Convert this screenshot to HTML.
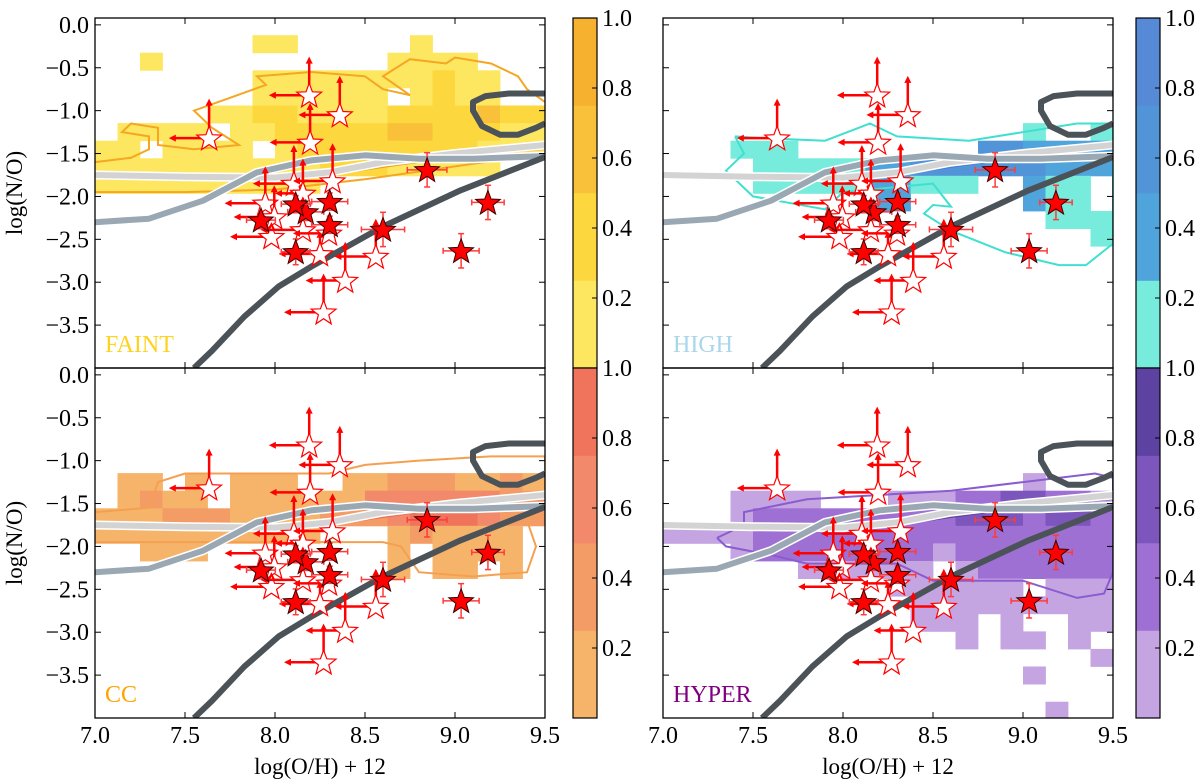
<!DOCTYPE html>
<html><head><meta charset="utf-8">
<style>
html,body{margin:0;padding:0;background:#fff;}
svg{display:block;}
svg text{font-family:"Liberation Serif","Times New Roman","DejaVu Serif",serif;}
</style></head>
<body>
<svg id="fig" width="1200" height="784" viewBox="0 0 1200 784" xmlns="http://www.w3.org/2000/svg" font-family="Liberation Serif, serif"></svg>
<script>
// ---- data ----
const xTicks = [7.0, 7.5, 8.0, 8.5, 9.0, 9.5];
const xTickLabels = ["7.0", "7.5", "8.0", "8.5", "9.0", "9.5"];
const yTicks = [0.0, -0.5, -1.0, -1.5, -2.0, -2.5, -3.0, -3.5];
const yTickLabels = ["0.0", "\u22120.5", "\u22121.0", "\u22121.5", "\u22122.0", "\u22122.5", "\u22123.0", "\u22123.5"];
const cbTicks = [0.2, 0.4, 0.6, 0.8, 1.0];
const cbTickLabels = ["0.2", "0.4", "0.6", "0.8", "1.0"];

// detections: x, y, xerr, yerr
const detX = [8.845, 9.183, 9.034, 8.60, 7.922, 8.115, 8.171, 8.115, 8.304, 8.304];
const detY = [-1.69, -2.07, -2.634, -2.385, -2.276, -2.646, -2.18, -2.09, -2.06, -2.33];
const detXErr = [0.11, 0.09, 0.10, 0.12, 0.08, 0.08, 0.10, 0.08, 0.10, 0.10];
const detYErr = [0.20, 0.20, 0.20, 0.20, 0.10, 0.15, 0.10, 0.10, 0.10, 0.10];
// limits: x, y, left-arrow end, up-arrow end
const limX = [7.634, 8.19, 8.36, 8.195, 8.105, 8.32, 8.155, 7.946, 7.996, 7.98, 8.155, 8.25, 8.56, 8.39, 8.27, 8.30];
const limY = [-1.32, -0.82, -1.05, -1.37, -1.85, -1.82, -1.965, -2.08, -2.24, -2.47, -2.39, -2.67, -2.70, -2.98, -3.35, -2.43];
const limXTo = [7.41, 7.966, 8.13, 7.97, 7.877, 8.10, 8.0, 7.72, 7.77, 7.75, 7.92, 8.02, 8.33, 8.17, 8.05, 8.10];
const limYTo = [-0.86, -0.37, -0.595, -0.91, -1.40, -1.38, -1.56, -1.65, -1.87, -2.30, -2.0, -2.40, -2.26, -2.53, -2.90, -2.20];

// model curves
const lightCurveX = [7.0, 7.5, 8.0, 8.3, 8.6, 9.0, 9.5];
const lightCurveY = [-1.75, -1.77, -1.78, -1.72, -1.60, -1.50, -1.40];
const blueCurveX = [7.0, 7.3, 7.6, 7.9, 8.2, 8.5, 8.8, 9.1, 9.5];
const blueCurveY = [-2.30, -2.26, -2.05, -1.72, -1.58, -1.52, -1.56, -1.56, -1.53];
const darkCurveX = [7.55, 7.65, 7.83, 8.02, 8.2, 8.6, 9.03, 9.5];
const darkCurveY = [-4.0, -3.8, -3.4, -3.05, -2.82, -2.35, -1.93, -1.54];
const loopX = [9.5, 9.3, 9.17, 9.1, 9.1, 9.15, 9.25, 9.35, 9.45, 9.5];
const loopY = [-0.80, -0.80, -0.83, -0.9, -1.0, -1.18, -1.28, -1.28, -1.2, -1.15];

// heatmap grids: rows start at y=-0.12, step 0.205; cols start 7.0 step 0.125; digit = colour band
const faintGrid = [
".......11.....1.....",
"..1..........1111...",
".......11111111211..",
".......111111.1211..",
".....112211112222322",
".1111.11222223322211",
"11.1111.122222222111",
"111111111122211111..",
"1111111111.........."];
const highGrid = [
"....................","....................","....................","....................","....................",
"................1..1",
"...111........332222",
"....1111122333333222",
"....1111122111..211.",
".........22.....211.",
".................111",
"...................1"];
const ccGrid = [
"....................","....................","....................","....................","....................",
".11.1.111..112221121",
".1211.11111133333322",
"11122211112223444322",
"1111111111...121111.",
"..111........1.1111.",
".............1.11.1."];
const hyperGrid = [
"....................","....................","....................","....................","....................",
"................1...",
"...1111...1112233221",
"...12222222223332332",
"11112222222222222222",
"...12222222212222222",
"......111111.1222222",
"..........111111.111",
"...........111111111",
"...........111.1..11",
".............1.11.1.",
"...................1",
"................1...",
"....................",
".................1.."];

// contour outlines
const faintContourX = [7.0,7.2,7.3,7.3,7.15,7.2,7.35,7.35,7.55,7.8,7.65,7.55,7.75,7.95,7.9,8.2,8.5,8.6,8.75,8.6,8.75,8.95,9.0,9.2,9.35,9.4,9.5];
const faintContourY = [-1.6,-1.55,-1.45,-1.3,-1.25,-1.15,-1.2,-1.4,-1.45,-1.4,-1.2,-1.0,-0.85,-0.7,-0.6,-0.55,-0.6,-0.75,-0.82,-0.6,-0.4,-0.45,-0.38,-0.45,-0.6,-0.75,-0.9];
const faintContour2X = [7.0,7.5,8.0,8.5,9.0,9.5];
const faintContour2Y = [-1.95,-1.95,-1.92,-1.8,-1.65,-1.5];
const highContourX = [7.4,7.55,7.9,8.15,8.3,8.7,9.0,9.3,9.5,9.5,9.35,9.2,8.9,8.6,8.45,8.5,8.6,8.5,8.0,7.9,7.5,7.35,7.45,7.4];
const highContourY = [-1.3,-1.32,-1.35,-1.15,-1.3,-1.35,-1.25,-1.15,-1.15,-2.55,-2.8,-2.8,-2.65,-2.4,-2.2,-2.1,-2.12,-1.85,-1.95,-2.15,-2.0,-1.7,-1.5,-1.3];
const ccContourX = [7.0,7.3,7.35,7.5,8.0,8.3,8.5,8.8,9.2,9.5,9.5,9.4,9.45,9.4,9.1,8.8,8.7,8.6,8.2,7.8,7.0];
const ccContourY = [-1.6,-1.55,-1.25,-1.15,-1.15,-1.15,-1.05,-1.0,-0.95,-0.95,-1.5,-1.7,-2.0,-2.3,-2.35,-2.3,-2.0,-1.95,-1.95,-1.95,-1.95];
const hyperContourX = [7.3,7.45,7.45,7.8,8.2,8.6,9.0,9.4,9.5,9.5,9.45,9.3,9.0,8.5,8.3,8.0,7.8,7.6,7.35,7.3];
const hyperContourY = [-1.9,-1.75,-1.6,-1.45,-1.4,-1.35,-1.25,-1.15,-1.2,-2.3,-2.55,-2.6,-2.4,-2.4,-2.2,-2.2,-2.2,-2.1,-2.0,-1.9];
const innerLineX = [8.0,8.4,8.8,9.2,9.5];
const innerLineY = [-1.85,-1.72,-1.6,-1.5,-1.45];

// ---- drawing ----
const NS = "http://www.w3.org/2000/svg";
const FONT = "'Liberation Serif', 'Times New Roman', 'DejaVu Serif', serif";
const svg = document.getElementById("fig");
function mk(tag, attrs, parent) {
  const e = document.createElementNS(NS, tag);
  for (const k in attrs) e.setAttribute(k, attrs[k]);
  if (tag === "text") { e.setAttribute("font-family", FONT); e.style.fontFamily = FONT; }
  (parent || svg).appendChild(e);
  return e;
}

const panels = [
  {key:"faint", x0:95, x1:545, y0:18, y1:368, grid:faintGrid, colors:["#fde760","#fcd83e","#f9c13a","#f6b12f"], contour:[faintContourX,faintContourY], contour2:[faintContour2X,faintContour2Y], lc:"#f5a623", inner:"#f0a020", label:"FAINT", labelColor:"#ffd21f", yLabels:true, xLabels:false},
  {key:"high", x0:663, x1:1113, y0:18, y1:368, grid:highGrid, colors:["#77ecdc","#4fa4dc","#5294d8","#5689d6"], contour:[highContourX,highContourY], lc:"#40e0d0", inner:"#4a7fd6", label:"HIGH", labelColor:"#a9d6ea", yLabels:false, xLabels:false},
  {key:"cc", x0:95, x1:545, y0:368, y1:718, grid:ccGrid, colors:["#f6b46a","#f49c66","#f1896a","#ef745b"], contour:[ccContourX,ccContourY], lc:"#f5a050", inner:"#ee6a55", label:"CC", labelColor:"#ffa500", yLabels:true, xLabels:true},
  {key:"hyper", x0:663, x1:1113, y0:368, y1:718, grid:hyperGrid, colors:["#c4a5e2","#9f70d4","#7c55bd","#5d42a1"], contour:[hyperContourX,hyperContourY], lc:"#8a5cd0", inner:"#5d42a1", label:"HYPER", labelColor:"#800080", yLabels:false, xLabels:true}
];

function starPath(cx, cy, R) {
  const r = R * 0.42; let d = "";
  for (let k = 0; k < 10; k++) {
    const rad = k % 2 ? r : R;
    const a = -Math.PI / 2 + k * Math.PI / 5;
    d += (k ? "L" : "M") + (cx + rad * Math.cos(a)).toFixed(1) + " " + (cy + rad * Math.sin(a)).toFixed(1);
  }
  return d + "Z";
}

panels.forEach((p, pi) => {
  const X = v => p.x0 + (v - 7) / 2.5 * (p.x1 - p.x0);
  const Y = v => p.y0 + (0.08 - v) / 4.08 * (p.y1 - p.y0);
  const g = mk("g", {});
  
  
  const cid = "clip" + pi;
  const cp = mk("clipPath", {id: cid}, g);
  mk("rect", {x:p.x0, y:p.y0, width:p.x1-p.x0, height:p.y1-p.y0}, cp);
  const plot = mk("g", {"clip-path": "url(#" + cid + ")"}, g);

  p.grid.forEach((row, j) => {
    for (let i = 0; i < row.length; i++) {
      const c = row[i];
      if (c < "1" || c > "4") continue;
      const xa = X(7 + 0.125 * i), xb = X(7 + 0.125 * (i + 1));
      const ya = Y(-0.12 - 0.205 * j), yb = Y(-0.12 - 0.205 * (j + 1));
      const r = mk("rect", {x:xa.toFixed(1), y:ya.toFixed(1), width:(xb-xa+0.4).toFixed(1), height:(yb-ya+0.4).toFixed(1), fill:p.colors[+c-1]}, plot);
      
      
    }
  });

  const poly = (xs, ys) => xs.map((v, k) => X(v).toFixed(1) + "," + Y(ys[k]).toFixed(1)).join(" ");
  const c1 = mk("polyline", {points: poly(p.contour[0], p.contour[1]), fill:"none", stroke:p.lc, "stroke-width":2}, plot);
  
  
  if (p.contour2) {
    const c2 = mk("polyline", {points: poly(p.contour2[0], p.contour2[1]), fill:"none", stroke:p.lc, "stroke-width":2}, plot);
    
    
  }
  const il = mk("polyline", {points: poly(innerLineX, innerLineY), fill:"none", stroke:p.inner, "stroke-width":1.5}, plot);
  
  

  [[lightCurveX, lightCurveY, "#d3d3d3", "light-model-curve"], [blueCurveX, blueCurveY, "#9aa8b4", "blue-model-curve"]].forEach(cv => {
    mk("polyline", {points: poly(cv[0], cv[1]), fill:"none", stroke:"#fff", "stroke-width":9, "stroke-linejoin":"round"}, plot);
    const l = mk("polyline", {points: poly(cv[0], cv[1]), fill:"none", stroke:cv[2], "stroke-width":6, "stroke-linejoin":"round"}, plot);
    
    
  });
  const dk = mk("polyline", {points: poly(darkCurveX, darkCurveY), fill:"none", stroke:"#4b5359", "stroke-width":6, "stroke-linejoin":"round"}, plot);
  
  
  const lp = mk("path", {d:"M" + poly(loopX, loopY).split(" ").join(" L"), fill:"none", stroke:"#4b5359", "stroke-width":6, "stroke-linejoin":"round"}, plot);
  
  

  limX.forEach((xv, k) => {
    const cx = X(xv), cy = Y(limY[k]);
    const lx = X(limXTo[k]), uy = Y(limYTo[k]);
    const ga = mk("g", {}, plot);
    
    
    mk("line", {x1:cx, y1:cy, x2:lx+5, y2:cy, stroke:"#ff0000", "stroke-width":2.5}, ga);
    mk("path", {d:`M${lx} ${cy} L${lx+7} ${cy-3.5} L${lx+7} ${cy+3.5}Z`, fill:"#ff0000"}, ga);
    mk("line", {x1:cx, y1:cy, x2:cx, y2:uy+5, stroke:"#ff0000", "stroke-width":2.5}, ga);
    mk("path", {d:`M${cx} ${uy} L${cx-3.5} ${uy+7} L${cx+3.5} ${uy+7}Z`, fill:"#ff0000"}, ga);
    mk("path", {d:starPath(cx, cy+1, 13), fill:"#fff", stroke:"#ff0000", "stroke-width":1.2}, ga);
  });
  detX.forEach((xv, k) => {
    const cx = X(xv), cy = Y(detY[k]);
    const xa = X(xv - detXErr[k]), xb = X(xv + detXErr[k]);
    const ya = Y(detY[k] + detYErr[k]), yb = Y(detY[k] - detYErr[k]);
    const gd = mk("g", {}, plot);
    
    
    const st = {stroke:"#ff3b3b", "stroke-width":1.5};
    mk("line", Object.assign({x1:xa, y1:cy, x2:xb, y2:cy}, st), gd);
    mk("line", Object.assign({x1:cx, y1:ya, x2:cx, y2:yb}, st), gd);
    mk("line", Object.assign({x1:xa, y1:cy-3, x2:xa, y2:cy+3}, st), gd);
    mk("line", Object.assign({x1:xb, y1:cy-3, x2:xb, y2:cy+3}, st), gd);
    mk("line", Object.assign({x1:cx-3, y1:ya, x2:cx+3, y2:ya}, st), gd);
    mk("line", Object.assign({x1:cx-3, y1:yb, x2:cx+3, y2:yb}, st), gd);
    mk("path", {d:starPath(cx, cy+1, 13), fill:"#ff0000", stroke:"#3a0000", "stroke-width":1}, gd);
  });

  const fr = mk("rect", {x:p.x0, y:p.y0, width:p.x1-p.x0, height:p.y1-p.y0, fill:"none", stroke:"#000", "stroke-width":1.3}, g);
  
  
  xTicks.forEach((v, k) => {
    const x = X(v);
    mk("line", {x1:x, y1:p.y1, x2:x, y2:p.y1-6, stroke:"#000", "stroke-width":1}, g);
    mk("line", {x1:x, y1:p.y0, x2:x, y2:p.y0+6, stroke:"#000", "stroke-width":1}, g);
    if (p.xLabels) {
      const t = mk("text", {x:x, y:p.y1+25, "text-anchor":"middle", "font-size":24, fill:"#000"}, g);
      t.textContent = xTickLabels[k];
      
      
    }
  });
  yTicks.forEach((v, k) => {
    const y = Y(v);
    mk("line", {x1:p.x0, y1:y, x2:p.x0+6, y2:y, stroke:"#000", "stroke-width":1}, g);
    mk("line", {x1:p.x1, y1:y, x2:p.x1-6, y2:y, stroke:"#000", "stroke-width":1}, g);
    if (p.yLabels) {
      const t = mk("text", {x:p.x0-6, y:y+8, "text-anchor":"end", "font-size":24, fill:"#000"}, g);
      t.textContent = yTickLabels[k];
      
      
    }
  });
  const lb = mk("text", {x:p.x0+10, y:p.y1-16, "font-size":24, fill:p.labelColor}, g);
  lb.textContent = p.label;
  
  
  if (p.yLabels) {
    const yl = mk("text", {x:0, y:0, "text-anchor":"middle", "font-size":23, fill:"#000", transform:`translate(22 ${(p.y0+p.y1)/2}) rotate(-90)`}, g);
    yl.textContent = "log(N/O)";
    
    
  }
  if (p.xLabels) {
    const xl = mk("text", {x:(p.x0+p.x1)/2, y:774, "text-anchor":"middle", "font-size":23, fill:"#000"}, g);
    xl.textContent = "log(O/H) + 12";
    
    
  }

  const cbx = pi % 2 === 0 ? 573 : 1136, cbw = 24;
  const cb = mk("g", {}, svg);
  
  
  for (let b = 0; b < 4; b++) {
    const ya = p.y0 + (1 - (b + 1) * 0.25) * (p.y1 - p.y0);
    mk("rect", {x:cbx, y:ya, width:cbw, height:(p.y1-p.y0)*0.25+0.3, fill:p.colors[b]}, cb);
  }
  mk("rect", {x:cbx, y:p.y0, width:cbw, height:p.y1-p.y0, fill:"none", stroke:"#000", "stroke-width":1.2}, cb);
  cbTicks.forEach((v, k) => {
    const y = p.y0 + (1 - v) * (p.y1 - p.y0);
    mk("line", {x1:cbx+cbw, y1:y, x2:cbx+cbw-5, y2:y, stroke:"#000", "stroke-width":1}, cb);
    const t = mk("text", {x:cbx+cbw+5, y:y+8, "font-size":24, fill:"#000"}, cb);
    t.textContent = cbTickLabels[k];
    
    
  });
});
</script>
</body></html>
